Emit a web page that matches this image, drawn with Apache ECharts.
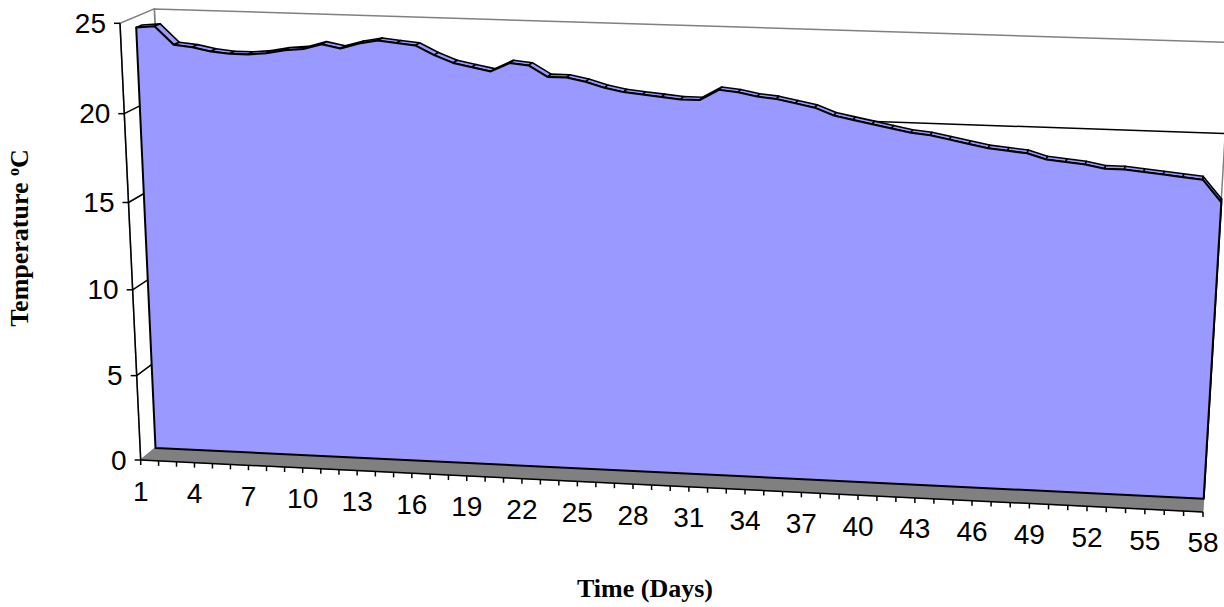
<!DOCTYPE html>
<html>
<head>
<meta charset="utf-8">
<script src="https://cdn.jsdelivr.net/npm/echarts/dist/echarts.min.js"></script>
<style>
  html, body { margin: 0; padding: 0; background: #ffffff; }
  #chart { width: 1224px; height: 607px; }
</style>
</head>
<body>
<div id="chart"></div>
<script>
// ---- data ----
const days = [1, 2, 3, 4, 5, 6, 7, 8, 9, 10, 11, 12, 13, 14, 15, 16, 17, 18, 19, 20,
  21, 22, 23, 24, 25, 26, 27, 28, 29, 30, 31, 32, 33, 34, 35, 36, 37, 38, 39, 40,
  41, 42, 43, 44, 45, 46, 47, 48, 49, 50, 51, 52, 53, 54, 55, 56, 57, 58];
const temperature = [24.4, 24.5, 23.5, 23.4, 23.2, 23.1, 23.1, 23.2, 23.4, 23.5,
  23.8, 23.6, 23.9, 24.1, 24.0, 23.9, 23.4, 23.0, 22.8, 22.6,
  23.1, 23.0, 22.4, 22.4, 22.2, 21.9, 21.7, 21.6, 21.5, 21.4,
  21.4, 22.0, 21.9, 21.7, 21.6, 21.4, 21.2, 20.8, 20.6, 20.4,
  20.2, 20.0, 19.9, 19.7, 19.5, 19.3, 19.2, 19.1, 18.8, 18.7,
  18.6, 18.4, 18.4, 18.3, 18.2, 18.1, 18.0, 16.8];
const yTicks = [0, 5, 10, 15, 20, 25];
const xTickLabels = [1, 4, 7, 10, 13, 16, 19, 22, 25, 28, 31, 34, 37, 40, 43, 46, 49, 52, 55, 58];

// ---- 3D view: perspective camera for the box (X = days, Y = value, Z = depth, each 0..1) ----
const CAM = {
  O: [140.7, 460], A: [1013.7, 31.3], B: [-25.74, -437.68], C: [37.5, -13.5],
  wa: -0.0404, wb: -0.042, wc: 0.03
};
const DEPTH = { front: 0, areaFront: 0.45, areaBack: 0.62, back: 1 };

const AREA_FILL = '#9999ff';
const FLOOR_FILL = '#808080';
const WALL_EDGE = '#808080';
const TICK_FONT = '"Liberation Sans", Arial, sans-serif';
const TITLE_FONT = '"Liberation Serif", "Times New Roman", serif';
const TICK_FONT_SIZE = 28;

function project(X, Y, Z) {
  const w = 1 + X * CAM.wa + Y * CAM.wb + Z * CAM.wc;
  return [
    (CAM.O[0] + X * CAM.A[0] + Y * CAM.B[0] + Z * CAM.C[0]) / w,
    (CAM.O[1] + X * CAM.A[1] + Y * CAM.B[1] + Z * CAM.C[1]) / w
  ];
}

// data value -> flat grid pixel (ECharts scales) -> unit box -> projected point
function P(api, cs, day, val, z) {
  const p = api.coord([day, val]);
  const X = (p[0] - cs.x) / cs.width;
  const Y = (cs.y + cs.height - p[1]) / cs.height;
  return project(X, Y, z);
}

const D0 = days[0];
const DN = days[days.length - 1];
const YMAX = yTicks[yTicks.length - 1];

function renderWalls(params, api) {
  const cs = params.coordSys;
  const B = DEPTH.back, F = DEPTH.front;
  const children = [];
  // back wall
  children.push({ type: 'polygon', shape: { points: [
      P(api, cs, D0, 0, B), P(api, cs, DN, 0, B), P(api, cs, DN, YMAX, B), P(api, cs, D0, YMAX, B)] },
    style: { fill: '#ffffff', stroke: WALL_EDGE, lineWidth: 1.5 } });
  // side wall
  children.push({ type: 'polygon', shape: { points: [
      P(api, cs, D0, 0, F), P(api, cs, D0, 0, B), P(api, cs, D0, YMAX, B), P(api, cs, D0, YMAX, F)] },
    style: { fill: '#ffffff', stroke: WALL_EDGE, lineWidth: 1.5 } });
  // floor
  children.push({ type: 'polygon', shape: { points: [
      P(api, cs, D0, 0, F), P(api, cs, DN, 0, F), P(api, cs, DN, 0, B), P(api, cs, D0, 0, B)] },
    style: { fill: FLOOR_FILL, stroke: FLOOR_FILL, lineWidth: 1 } });
  // gridlines on the back and side walls
  yTicks.forEach(function (v) {
    if (v === 0 || v === YMAX) return;
    const a = P(api, cs, D0, v, F), b = P(api, cs, D0, v, B), c = P(api, cs, DN, v, B);
    children.push({ type: 'polyline', shape: { points: [a, b, c] },
      style: { stroke: '#000000', lineWidth: 1.5, fill: null } });
  });
  return { type: 'group', children: children };
}

function renderTopFace(params, api) {
  const cs = params.coordSys;
  const i = params.dataIndex;
  if (i >= days.length - 1) {
    // end cap at the last day
    const d = api.value(0), v = api.value(1);
    return { type: 'polygon', shape: { points: [
        P(api, cs, d, 0, DEPTH.areaFront), P(api, cs, d, v, DEPTH.areaFront),
        P(api, cs, d, v, DEPTH.areaBack), P(api, cs, d, 0, DEPTH.areaBack)] },
      style: { fill: AREA_FILL, stroke: '#000000', lineWidth: 2, lineJoin: 'round' } };
  }
  const d1 = api.value(0), v1 = api.value(1);
  const d2 = days[i + 1], v2 = temperature[i + 1];
  return { type: 'polygon', shape: { points: [
      P(api, cs, d1, v1, DEPTH.areaFront), P(api, cs, d2, v2, DEPTH.areaFront),
      P(api, cs, d2, v2, DEPTH.areaBack), P(api, cs, d1, v1, DEPTH.areaBack)] },
    style: { fill: AREA_FILL, stroke: '#000000', lineWidth: 1.6, lineJoin: 'round' } };
}

function renderFrontFace(params, api) {
  const cs = params.coordSys;
  const z = DEPTH.areaFront;
  const pts = [P(api, cs, D0, 0, z)];
  for (let i = 0; i < days.length; i++) pts.push(P(api, cs, days[i], temperature[i], z));
  pts.push(P(api, cs, DN, 0, z));
  return { type: 'polygon', shape: { points: pts },
    style: { fill: AREA_FILL, stroke: '#000000', lineWidth: 2, lineJoin: 'round' } };
}

function renderAxes(params, api) {
  const cs = params.coordSys;
  const F = DEPTH.front;
  const children = [];
  const x0 = P(api, cs, D0, 0, F), x1 = P(api, cs, DN, 0, F);
  const yTop = P(api, cs, D0, YMAX, F);
  children.push({ type: 'line', shape: { x1: x0[0], y1: x0[1], x2: x1[0], y2: x1[1] },
    style: { stroke: '#000000', lineWidth: 1.5 } });
  children.push({ type: 'line', shape: { x1: x0[0], y1: x0[1], x2: yTop[0], y2: yTop[1] },
    style: { stroke: '#000000', lineWidth: 1.5 } });
  days.forEach(function (d) {
    const p = P(api, cs, d, 0, F);
    children.push({ type: 'line', shape: { x1: p[0], y1: p[1], x2: p[0], y2: p[1] + 5 },
      style: { stroke: '#000000', lineWidth: 1.5 } });
  });
  xTickLabels.forEach(function (d) {
    const p = P(api, cs, d, 0, F);
    children.push({ type: 'text', x: p[0], y: p[1] + 31,
      style: { text: String(d), fill: '#000000', fontSize: TICK_FONT_SIZE, fontFamily: TICK_FONT,
        align: 'center', verticalAlign: 'middle' } });
  });
  yTicks.forEach(function (v) {
    const p = P(api, cs, D0, v, F);
    children.push({ type: 'line', shape: { x1: p[0] - 6, y1: p[1], x2: p[0], y2: p[1] },
      style: { stroke: '#000000', lineWidth: 1.5 } });
    children.push({ type: 'text', x: p[0] - 14, y: p[1],
      style: { text: String(v), fill: '#000000', fontSize: TICK_FONT_SIZE, fontFamily: TICK_FONT,
        align: 'right', verticalAlign: 'middle' } });
  });
  return { type: 'group', children: children };
}

const chart = echarts.init(document.getElementById('chart'), null,
  { renderer: 'svg', width: 1224, height: 607 });

chart.setOption({
  animation: false,
  backgroundColor: '#ffffff',
  grid: { left: 141, top: 23, width: 1062, height: 437 },
  xAxis: { type: 'value', min: D0, max: DN, show: false },
  yAxis: { type: 'value', min: 0, max: YMAX, show: false },
  graphic: [
    { type: 'text', x: 645, y: 588,
      style: { text: 'Time (Days)', fill: '#000000', font: 'bold 26px ' + TITLE_FONT,
        textAlign: 'center', textVerticalAlign: 'middle', align: 'center', verticalAlign: 'middle' } },
    { type: 'text', x: 19, y: 238, rotation: Math.PI / 2,
      style: { text: 'Temperature {sup|o}C', fill: '#000000', font: 'bold 26px ' + TITLE_FONT,
        textAlign: 'center', textVerticalAlign: 'middle', align: 'center', verticalAlign: 'middle',
        rich: { sup: { fontSize: 16, fontWeight: 'bold', fontFamily: TITLE_FONT, padding: [0, 0, 12, 0] } } } }
  ],
  series: [
    { type: 'custom', z: 1, silent: true, clip: false, data: [[D0, 0]], renderItem: renderWalls },
    { type: 'custom', z: 2, silent: true, clip: false,
      data: temperature.map(function (v, i) { return [days[i], v]; }), renderItem: renderTopFace },
    { type: 'custom', z: 3, silent: true, clip: false, data: [[D0, 0]], renderItem: renderFrontFace },
    { type: 'custom', z: 4, silent: true, clip: false, data: [[D0, 0]], renderItem: renderAxes }
  ]
});
</script>
</body>
</html>
